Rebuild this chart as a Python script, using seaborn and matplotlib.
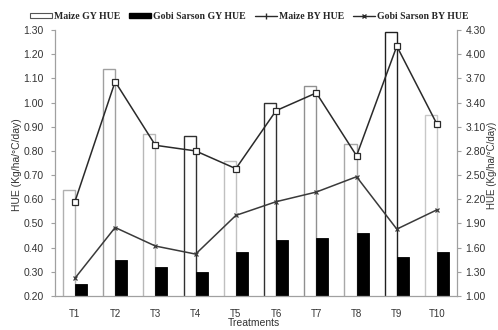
import numpy as np
import pandas as pd
import seaborn as sns
import matplotlib
matplotlib.use("Agg")
import matplotlib.pyplot as plt
from matplotlib.patches import Patch
from matplotlib.lines import Line2D

# Datos
treatments = ["T1", "T2", "T3", "T4", "T5", "T6", "T7", "T8", "T9", "T10"]
maize_gy = [0.64, 1.14, 0.87, 0.86, 0.76, 1.00, 1.07, 0.83, 1.29, 0.95]
gobi_gy = [0.25, 0.35, 0.32, 0.30, 0.38, 0.43, 0.44, 0.46, 0.36, 0.38]
maize_by = [2.17, 3.66, 2.87, 2.80, 2.58, 3.30, 3.52, 2.74, 4.10, 3.13]
gobi_by = [1.22, 1.85, 1.62, 1.52, 2.00, 2.17, 2.29, 2.48, 1.83, 2.07]
maize_edges = ["#b0b0b0", "#a0a0a0", "#b8b8b8", "#303030", "#c0c0c0",
               "#303030", "#909090", "#a8a8a8", "#202020", "#c8c8c8"]

left_ticks = np.round(np.arange(0.20, 1.31, 0.10), 2)
right_ticks = np.round(np.arange(1.00, 4.31, 0.30), 2)

df = pd.DataFrame({
    "Treatment": treatments * 2,
    "HUE": maize_gy + gobi_gy,
    "Serie": ["Maize GY HUE"] * 10 + ["Gobi Sarson GY HUE"] * 10,
})

sns.set_style("white")
plt.rcParams["font.family"] = ["Liberation Sans", "DejaVu Sans"]

fig = plt.figure(figsize=(4.98, 3.30), dpi=100)
ax = fig.add_axes([0.110, 0.103, 0.808, 0.806])

sns.barplot(data=df, x="Treatment", y="HUE", hue="Serie",
            palette=["white", "black"], width=0.6, ax=ax, legend=False)

# bordes de las barras de maíz
for patch, ec in zip(ax.containers[0], maize_edges):
    patch.set_edgecolor(ec)
    patch.set_linewidth(1.0)
for patch in ax.containers[1]:
    patch.set_edgecolor("black")
    patch.set_linewidth(0.6)

ax.set_ylim(0.20, 1.30)
ax.set_xlim(-0.5, 9.5)
ax.set_yticks(left_ticks)
ax.set_yticklabels([f"{v:.2f}" for v in left_ticks])
ax.set_xlabel("")
ax.set_ylabel("")

ax2 = ax.twinx()
x = np.arange(len(treatments))
sns.lineplot(x=x, y=maize_by, ax=ax2, color="#2a2a2a", linewidth=1.1,
             marker="s", markersize=4, markerfacecolor="white",
             markeredgecolor="#2a2a2a", markeredgewidth=0.9)
sns.lineplot(x=x, y=gobi_by, ax=ax2, color="#3a3a3a", linewidth=1.1,
             marker="x", markersize=3, markeredgewidth=0.9,
             markeredgecolor="#3a3a3a")
ax2.set_ylim(1.00, 4.30)
ax2.set_yticks(right_ticks)
ax2.set_yticklabels([f"{v:.2f}" for v in right_ticks])
ax2.set_xlim(-0.5, 9.5)
ax2.set_ylabel("")

# ejes estilo Excel
for a in (ax, ax2):
    for s in a.spines.values():
        s.set_visible(False)
ax.spines["left"].set_visible(True)
ax.spines["bottom"].set_visible(True)
ax2.spines["right"].set_visible(True)
for s in (ax.spines["left"], ax.spines["bottom"], ax2.spines["right"]):
    s.set_color("#a0a0a0")
    s.set_linewidth(0.9)

ax.set_xticks(x)
ax.set_xticklabels(treatments)
ax.set_xticks(np.arange(-0.5, 10, 1), minor=True)
ax.tick_params(axis="x", which="major", length=0, pad=9, labelsize=7,
               colors="#333333")
ax.tick_params(axis="x", which="minor", length=4, color="#a0a0a0",
               direction="out")
ax.tick_params(axis="y", length=3, color="#a0a0a0", labelsize=7.5,
               labelcolor="#333333", pad=5)
ax2.tick_params(axis="y", length=3, color="#a0a0a0", labelsize=7.5,
                labelcolor="#333333", pad=3)

fig.text(0.035, 0.50, "HUE (Kg/ha/°C/day)", rotation=90, ha="center",
         va="center", fontsize=7.5, color="#333333")
fig.text(0.988, 0.50, "HUE (Kg/ha/°C/day)", rotation=90, ha="center",
         va="center", fontsize=7, color="#333333")
fig.text(0.51, 0.005, "Treatments", ha="center", va="bottom", fontsize=7.5,
         color="#333333")

handles = [
    Patch(facecolor="white", edgecolor="#555555", linewidth=0.8),
    Patch(facecolor="black", edgecolor="black"),
    Line2D([], [], color="#2a2a2a", linewidth=1, marker="|", markersize=4),
    Line2D([], [], color="#2a2a2a", linewidth=1, marker="x", markersize=3),
]
labels = ["Maize GY HUE", "Gobi Sarson GY HUE", "Maize BY HUE",
          "Gobi Sarson BY HUE"]
fig.legend(handles, labels, loc="center", bbox_to_anchor=(0.50, 0.95),
           ncol=4, frameon=False, handlelength=2.3, handleheight=0.5,
           columnspacing=0.9, handletextpad=0.2,
           prop={"family": "Liberation Serif", "weight": "bold", "size": 7})

fig.savefig("out.png", dpi=100)
